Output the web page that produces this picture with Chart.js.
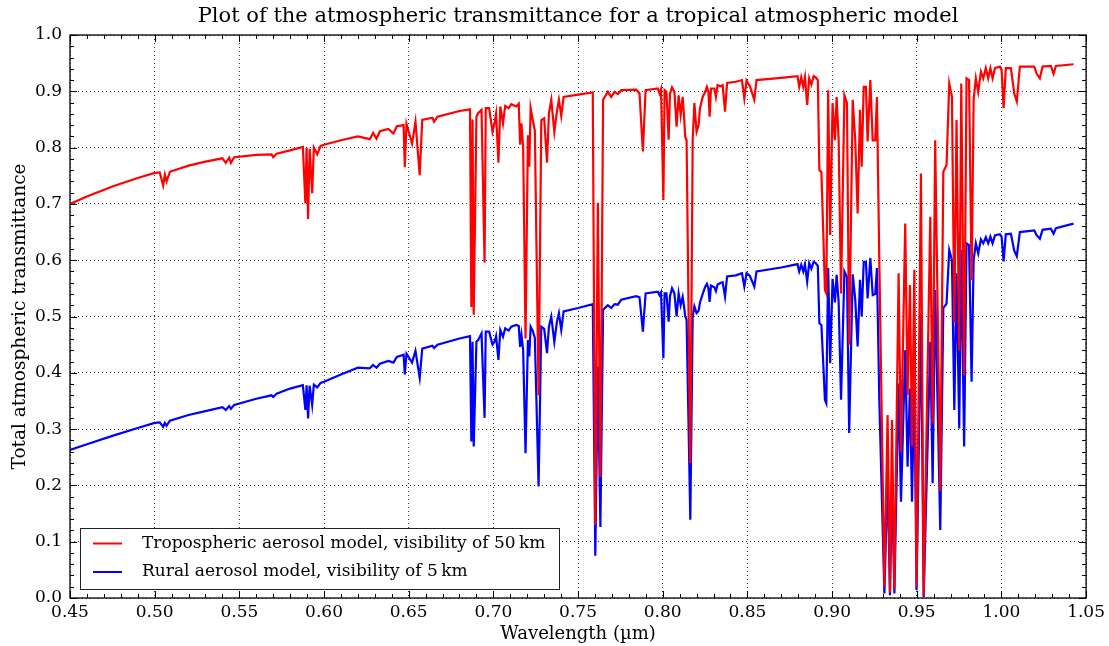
<!DOCTYPE html>
<html>
<head>
<meta charset="utf-8">
<script src="https://cdn.jsdelivr.net/npm/chart.js@4.4.1/dist/chart.umd.min.js"></script>
<style>
  html, body { margin: 0; padding: 0; background: #fff; }
  #wrap { width: 1109px; height: 646px; }
</style>
</head>
<body>
<div id="wrap"><canvas id="transChart" width="1109" height="646"></canvas></div>
<script>
// wavelength in micrometres, shared by both curves
const wavelength = [
  0.450, 0.460, 0.475, 0.490, 0.500, 0.503, 0.505, 0.506, 0.507, 0.509,
  0.520, 0.530, 0.540, 0.542, 0.544, 0.545, 0.547, 0.560, 0.569, 0.570,
  0.572, 0.580, 0.5875, 0.589, 0.5897, 0.5906, 0.5915, 0.593, 0.594, 0.596,
  0.598, 0.600, 0.610, 0.620, 0.627, 0.629, 0.631, 0.633, 0.638, 0.641,
  0.643, 0.647, 0.6477, 0.6487, 0.652, 0.654, 0.6565, 0.658, 0.664, 0.665,
  0.667, 0.680, 0.6862, 0.6870, 0.6877, 0.6884, 0.6900, 0.6910, 0.6930, 0.6948,
  0.6955, 0.6975, 0.6995, 0.7008, 0.7016, 0.7030, 0.7041, 0.7057, 0.7070, 0.7090,
  0.7106, 0.7135, 0.7150, 0.7158, 0.7166, 0.7176, 0.7190, 0.7204, 0.7212, 0.7220,
  0.7232, 0.7245, 0.7267, 0.7283, 0.7300, 0.7317, 0.7328, 0.7342, 0.7360, 0.7375,
  0.7387, 0.7401, 0.7415, 0.7500, 0.7587, 0.7602, 0.7617, 0.7632, 0.7648, 0.7676,
  0.7696, 0.7716, 0.7735, 0.7755, 0.7843, 0.7863, 0.7883, 0.7899, 0.7971, 0.7981,
  0.7990, 0.8004, 0.8011, 0.8022, 0.8035, 0.8043, 0.8055, 0.8069, 0.8082, 0.8094,
  0.8106, 0.8118, 0.8126, 0.8133, 0.8141, 0.8163, 0.8177, 0.8187, 0.8200, 0.8212,
  0.8220, 0.8236, 0.8251, 0.8261, 0.8270, 0.8277, 0.8285, 0.8305, 0.8314, 0.8324,
  0.8344, 0.8354, 0.8368, 0.8380, 0.8432, 0.8468, 0.8482, 0.8495, 0.8515, 0.8541,
  0.8554, 0.8700, 0.8796, 0.8806, 0.8818, 0.8830, 0.8840, 0.8853, 0.8865, 0.8878,
  0.8891, 0.8903, 0.8916, 0.8925, 0.8937, 0.8947, 0.8958, 0.8966, 0.8977, 0.8989,
  0.9003, 0.9017, 0.9027, 0.9039, 0.9053, 0.9073, 0.9088, 0.9101, 0.9122, 0.9137,
  0.9151, 0.9165, 0.9175, 0.9187, 0.9200, 0.9210, 0.9226, 0.9240, 0.9255, 0.9265,
  0.9279, 0.9309, 0.9328, 0.9342, 0.9354, 0.9368, 0.9393, 0.9407, 0.9432, 0.9446,
  0.9460, 0.9472, 0.9486, 0.9499, 0.9525, 0.9541, 0.9580, 0.9594, 0.9609, 0.9639,
  0.9657, 0.9676, 0.9692, 0.9708, 0.9722, 0.9735, 0.9751, 0.9763, 0.9780, 0.9794,
  0.9809, 0.9824, 0.9836, 0.9849, 0.9863, 0.9879, 0.9893, 0.9908, 0.9922, 0.9935,
  0.9948, 0.9962, 0.9991, 1.0001, 1.0013, 1.0026, 1.0056, 1.0076, 1.0091, 1.0109,
  1.0194, 1.0207, 1.0227, 1.0243, 1.0292, 1.0308, 1.0322, 1.0426
];

// tropospheric aerosol, 50 km visibility (red)
const tropospheric = [
  0.700, 0.713, 0.731, 0.746, 0.755, 0.756, 0.733, 0.752, 0.740, 0.757,
  0.768, 0.775, 0.781, 0.773, 0.782, 0.773, 0.783, 0.787, 0.788, 0.783,
  0.789, 0.795, 0.801, 0.701, 0.800, 0.673, 0.798, 0.719, 0.800, 0.788,
  0.803, 0.805, 0.813, 0.820, 0.815, 0.826, 0.816, 0.829, 0.833, 0.825,
  0.838, 0.840, 0.765, 0.842, 0.807, 0.846, 0.751, 0.849, 0.853, 0.846,
  0.855, 0.865, 0.868, 0.517, 0.850, 0.503, 0.855, 0.861, 0.867, 0.596,
  0.870, 0.870, 0.828, 0.845, 0.860, 0.773, 0.873, 0.843, 0.874, 0.870,
  0.877, 0.873, 0.878, 0.805, 0.843, 0.800, 0.461, 0.822, 0.766, 0.870,
  0.850, 0.830, 0.360, 0.849, 0.852, 0.773, 0.861, 0.885, 0.828, 0.864,
  0.885, 0.856, 0.890, 0.894, 0.898, 0.130, 0.702, 0.215, 0.885, 0.899,
  0.890, 0.899, 0.895, 0.902, 0.903, 0.896, 0.793, 0.902, 0.905, 0.896,
  0.904, 0.707, 0.902, 0.899, 0.814, 0.896, 0.907, 0.899, 0.837, 0.893,
  0.858, 0.890, 0.855, 0.819, 0.813, 0.240, 0.813, 0.879, 0.828, 0.840,
  0.870, 0.890, 0.899, 0.908, 0.899, 0.855, 0.905, 0.905, 0.890, 0.911,
  0.909, 0.911, 0.864, 0.915, 0.917, 0.920, 0.887, 0.919, 0.909, 0.885,
  0.920, 0.924, 0.927, 0.908, 0.925, 0.908, 0.925, 0.876, 0.923, 0.912,
  0.927, 0.925, 0.920, 0.760, 0.757, 0.660, 0.547, 0.541, 0.902, 0.645,
  0.879, 0.813, 0.890, 0.813, 0.541, 0.893, 0.879, 0.450, 0.885, 0.813,
  0.683, 0.867, 0.766, 0.908, 0.908, 0.811, 0.920, 0.813, 0.813, 0.890,
  0.600, 0.020, 0.325, 0.010, 0.316, 0.015, 0.577, 0.260, 0.665, 0.360,
  0.556, 0.270, 0.583, 0.020, 0.754, 0.005, 0.677, 0.310, 0.813, 0.190,
  0.757, 0.769, 0.914, 0.890, 0.490, 0.849, 0.440, 0.914, 0.395, 0.923,
  0.920, 0.565, 0.885, 0.923, 0.899, 0.935, 0.923, 0.941, 0.923, 0.941,
  0.923, 0.941, 0.944, 0.938, 0.870, 0.941, 0.941, 0.896, 0.882, 0.944,
  0.944, 0.932, 0.923, 0.944, 0.945, 0.931, 0.945, 0.948
];

// rural aerosol, 5 km visibility (blue)
const rural = [
  0.263, 0.273, 0.288, 0.302, 0.311, 0.312, 0.304, 0.311, 0.306, 0.315,
  0.325, 0.332, 0.339, 0.334, 0.341, 0.336, 0.343, 0.354, 0.360, 0.357,
  0.363, 0.372, 0.378, 0.334, 0.378, 0.319, 0.377, 0.343, 0.379, 0.374,
  0.382, 0.384, 0.397, 0.409, 0.408, 0.414, 0.409, 0.416, 0.421, 0.418,
  0.428, 0.432, 0.397, 0.434, 0.418, 0.439, 0.391, 0.443, 0.448, 0.444,
  0.450, 0.461, 0.465, 0.278, 0.455, 0.269, 0.455, 0.458, 0.470, 0.320,
  0.473, 0.473, 0.450, 0.456, 0.465, 0.423, 0.476, 0.464, 0.479, 0.475,
  0.482, 0.485, 0.483, 0.446, 0.467, 0.440, 0.257, 0.458, 0.429, 0.482,
  0.475, 0.462, 0.198, 0.482, 0.478, 0.435, 0.482, 0.500, 0.455, 0.490,
  0.506, 0.476, 0.509, 0.515, 0.522, 0.075, 0.411, 0.126, 0.512, 0.520,
  0.515, 0.522, 0.521, 0.530, 0.536, 0.534, 0.473, 0.541, 0.544, 0.538,
  0.543, 0.426, 0.541, 0.541, 0.491, 0.536, 0.550, 0.541, 0.500, 0.541,
  0.520, 0.535, 0.518, 0.500, 0.494, 0.139, 0.500, 0.518, 0.506, 0.510,
  0.525, 0.540, 0.553, 0.558, 0.550, 0.526, 0.555, 0.552, 0.545, 0.557,
  0.560, 0.561, 0.535, 0.571, 0.573, 0.577, 0.553, 0.577, 0.572, 0.553,
  0.580, 0.587, 0.593, 0.580, 0.592, 0.580, 0.593, 0.562, 0.595, 0.585,
  0.597, 0.595, 0.590, 0.488, 0.485, 0.423, 0.352, 0.346, 0.586, 0.417,
  0.567, 0.525, 0.574, 0.525, 0.352, 0.580, 0.570, 0.293, 0.575, 0.530,
  0.447, 0.565, 0.500, 0.597, 0.597, 0.532, 0.604, 0.538, 0.540, 0.586,
  0.352, 0.008, 0.216, 0.005, 0.210, 0.008, 0.381, 0.171, 0.440, 0.233,
  0.372, 0.171, 0.387, 0.014, 0.506, 0.002, 0.455, 0.204, 0.547, 0.121,
  0.515, 0.523, 0.618, 0.600, 0.334, 0.577, 0.301, 0.618, 0.269, 0.630,
  0.627, 0.384, 0.600, 0.630, 0.612, 0.637, 0.630, 0.641, 0.630, 0.642,
  0.630, 0.644, 0.646, 0.642, 0.598, 0.646, 0.647, 0.617, 0.607, 0.650,
  0.653, 0.645, 0.638, 0.654, 0.656, 0.647, 0.657, 0.665
];

const seriesLabels = [
  'Tropospheric aerosol model, visibility of 50\u2009km',
  'Rural aerosol model, visibility of 5\u2009km'
];
const xTickLabels = ['0.45', '0.50', '0.55', '0.60', '0.65', '0.70', '0.75',
  '0.80', '0.85', '0.90', '0.95', '1.00', '1.05'];
const yTickLabels = ['0.0', '0.1', '0.2', '0.3', '0.4', '0.5', '0.6', '0.7',
  '0.8', '0.9', '1.0'];

const serif = '"DejaVu Serif", "Liberation Serif", serif';

function toPoints(ys) {
  return wavelength.map((w, i) => ({ x: w, y: ys[i] }));
}

// frame on all four sides with inward major/minor ticks, like the original
const axisFrame = {
  id: 'axisFrame',
  afterDatasetsDraw(chart) {
    const { ctx, chartArea: a, scales: { x, y } } = chart;
    ctx.save();
    ctx.strokeStyle = '#000';
    ctx.lineWidth = 1;
    const tick = (x1, y1, x2, y2) => {
      ctx.beginPath(); ctx.moveTo(x1, y1); ctx.lineTo(x2, y2); ctx.stroke();
    };
    for (let i = 0; i <= 60; i++) {
      const px = Math.round(x.getPixelForValue(0.45 + i * 0.01)) + 0.5;
      const len = i % 5 === 0 ? 7 : 4;
      tick(px, a.bottom, px, a.bottom - len);
      tick(px, a.top, px, a.top + len);
    }
    for (let i = 0; i <= 50; i++) {
      const py = Math.round(y.getPixelForValue(i * 0.02)) + 0.5;
      const len = i % 5 === 0 ? 7 : 4;
      tick(a.left, py, a.left + len, py);
      tick(a.right, py, a.right - len, py);
    }
    ctx.lineWidth = 1.3;
    ctx.strokeRect(a.left, a.top, a.right - a.left, a.bottom - a.top);
    ctx.restore();
  }
};

// legend box in the lower left corner of the plot
const boxLegend = {
  id: 'boxLegend',
  afterDatasetsDraw(chart) {
    const { ctx, chartArea: a } = chart;
    const x0 = a.left + 10, y0 = a.bottom - 70, w = 479, h = 61;
    ctx.save();
    ctx.fillStyle = '#fff';
    ctx.fillRect(x0, y0, w, h);
    ctx.strokeStyle = '#222';
    ctx.lineWidth = 1;
    ctx.strokeRect(x0 + 0.5, y0 + 0.5, w, h);
    ctx.font = '17px ' + serif;
    ctx.textBaseline = 'middle';
    chart.data.datasets.forEach((ds, i) => {
      const cy = y0 + 15.5 + i * 28.5;
      ctx.strokeStyle = ds.borderColor;
      ctx.lineWidth = 2;
      ctx.beginPath(); ctx.moveTo(x0 + 13, cy); ctx.lineTo(x0 + 42, cy); ctx.stroke();
      ctx.fillStyle = '#000';
      ctx.fillText(ds.label, x0 + 62, cy);
    });
    ctx.restore();
  }
};

const ctx = document.getElementById('transChart').getContext('2d');
const transChart = new Chart(ctx, {
  type: 'line',
  data: {
    datasets: [{
      label: seriesLabels[0],
      data: toPoints(tropospheric),
      borderColor: '#ff0000',
      borderWidth: 2.2,
      pointRadius: 0,
      fill: false,
      tension: 0
    }, {
      label: seriesLabels[1],
      data: toPoints(rural),
      borderColor: '#0000ff',
      borderWidth: 2.2,
      pointRadius: 0,
      fill: false,
      tension: 0
    }]
  },
  options: {
    responsive: false,
    animation: false,
    layout: { padding: { left: 0, right: 22, top: 0, bottom: 0 } },
    plugins: {
      legend: { display: false },
      tooltip: { enabled: false },
      title: {
        display: true,
        fullSize: false,
        text: 'Plot of the atmospheric transmittance for a tropical atmospheric model',
        color: '#000',
        font: { family: serif, size: 21, weight: 'normal' },
        padding: { top: 4.4, bottom: 5.4 }
      }
    },
    scales: {
      x: {
        type: 'linear',
        min: 0.45,
        max: 1.05,
        afterFit(s) { s.height = 48; },
        ticks: {
          stepSize: 0.05,
          autoSkip: false,
          maxRotation: 0,
          padding: 4,
          color: '#000',
          font: { family: serif, size: 17 },
          callback: v => xTickLabels[Math.round((v - 0.45) / 0.05)]
        },
        grid: { color: 'rgba(0,0,0,0.8)', lineWidth: 1, drawTicks: false },
        border: { display: false, dash: [1, 3] },
        title: {
          display: true,
          text: 'Wavelength (\u00b5m)',
          color: '#000',
          font: { family: serif, size: 18 },
          padding: { top: 0, bottom: 1 }
        }
      },
      y: {
        type: 'linear',
        min: 0,
        max: 1,
        afterFit(s) { s.width = 70; },
        ticks: {
          stepSize: 0.1,
          padding: 8,
          color: '#000',
          font: { family: serif, size: 17 },
          callback: v => yTickLabels[Math.round(v * 10)]
        },
        grid: { color: 'rgba(0,0,0,0.8)', lineWidth: 1, drawTicks: false },
        border: { display: false, dash: [1, 3] },
        title: {
          display: true,
          text: 'Total atmospheric transmittance',
          color: '#000',
          font: { family: serif, size: 18.5 },
          padding: { top: 9, bottom: 0 }
        }
      }
    }
  },
  plugins: [axisFrame, boxLegend]
});
</script>
</body>
</html>
